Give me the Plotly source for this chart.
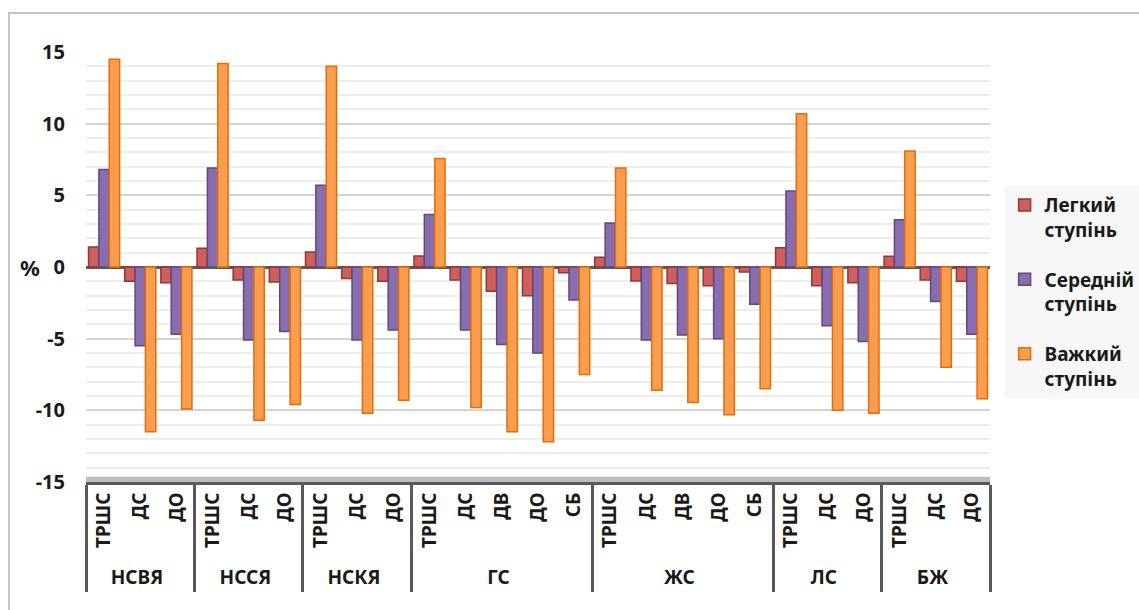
import plotly.graph_objects as go

# Category hierarchy: outer group and inner index
groups = ["НСВЯ"] * 3 + ["НССЯ"] * 3 + ["НСКЯ"] * 3 + ["ГС"] * 5 + ["ЖС"] * 5 + ["ЛС"] * 3 + ["БЖ"] * 3
indices = ["ТРШС", "ДС", "ДО",
           "ТРШС", "ДС", "ДО",
           "ТРШС", "ДС", "ДО",
           "ТРШС", "ДС", "ДВ", "ДО", "СБ",
           "ТРШС", "ДС", "ДВ", "ДО", "СБ",
           "ТРШС", "ДС", "ДО",
           "ТРШС", "ДС", "ДО"]

# Percentage change per severity level
light = [1.4, -1.0, -1.1,
         1.3, -0.9, -1.05,
         1.05, -0.8, -1.0,
         0.77, -0.9, -1.7, -2.0, -0.4,
         0.68, -0.97, -1.15, -1.3, -0.35,
         1.35, -1.3, -1.1,
         0.75, -0.9, -1.0]
medium = [6.8, -5.5, -4.7,
          6.9, -5.1, -4.5,
          5.7, -5.1, -4.4,
          3.66, -4.4, -5.4, -6.0, -2.3,
          3.07, -5.1, -4.75, -5.0, -2.6,
          5.3, -4.1, -5.2,
          3.3, -2.4, -4.7]
heavy = [14.5, -11.5, -9.9,
         14.2, -10.7, -9.6,
         14.0, -10.2, -9.3,
         7.57, -9.8, -11.5, -12.2, -7.5,
         6.9, -8.6, -9.45, -10.3, -8.5,
         10.7, -10.0, -10.2,
         8.1, -7.0, -9.2]

series_names = ["Легкий<br>ступінь", "Середній<br>ступінь", "Важкий<br>ступінь"]
fills = ["#CD5F5C", "#8A6DAE", "#F99D4E"]
edges = ["#943634", "#5F4A7F", "#E46C0A"]

FONT = "Noto Sans"

# Plotly orders multicategory inner labels by first appearance, so feed the
# points with ДО and СБ last to get ТРШС, ДС, ДВ, ДО, СБ within every group.
late = ["ДО", "СБ"]
plot_order = ([i for i, c in enumerate(indices) if c not in late]
              + [i for i, c in enumerate(indices) if c == "ДО"]
              + [i for i, c in enumerate(indices) if c == "СБ"])
x_outer = [groups[i] for i in plot_order]
x_inner = [indices[i] for i in plot_order]

fig = go.Figure()
for k, (name, vals) in enumerate(zip(series_names, [light, medium, heavy])):
    fig.add_trace(go.Bar(
        x=[x_outer, x_inner],
        y=[vals[i] for i in plot_order],
        name=name,
        legendgroup=f"g{k}",
        marker=dict(color=fills[k], line=dict(color=edges[k], width=1.5)),
    ))

fig.update_layout(
    width=1139,
    height=610,
    margin=dict(l=86, r=149, t=52, b=128),
    paper_bgcolor="white",
    plot_bgcolor="white",
    barmode="group",
    bargap=0.14,
    bargroupgap=0,
    font=dict(family=FONT, color="#1a1a1a"),
    legend=dict(
        xref="container", yref="container",
        x=0.882, y=0.695, xanchor="left", yanchor="top",
        bgcolor="#F7F7F7",
        font=dict(family=FONT, size=19, color="#1a1a1a", weight="bold"),
        tracegroupgap=22,
        itemwidth=30,
        valign="top",
    ),
    showlegend=True,
)

fig.update_yaxes(
    range=[-15, 15],
    tickvals=[-15, -10, -5, 0, 5, 10, 15],
    ticktext=["-15", "-10", "-5", "0", "5", "10", "15"],
    tickfont=dict(family=FONT, size=20, color="#1a1a1a", weight="bold"),
    ticks="",
    ticklabelstandoff=20,
    showgrid=True,
    gridcolor="#D4D4D4",
    gridwidth=2,
    minor=dict(dtick=1, showgrid=True, gridcolor="#EDEDED", gridwidth=1.5),
    zeroline=True,
    zerolinecolor="#595959",
    zerolinewidth=3,
    showline=False,
    fixedrange=True,
)

fig.update_xaxes(
    type="multicategory",
    tickangle=-90,
    tickfont=dict(family=FONT, size=19, color="#1a1a1a", weight="bold"),
    showline=True,
    linecolor="#595959",
    linewidth=3,
    showdividers=True,
    dividercolor="#595959",
    dividerwidth=3,
    ticks="",
    showgrid=False,
    fixedrange=True,
)

# Floor strip above the category axis
fig.add_shape(type="rect", xref="paper", yref="y domain",
              x0=0, x1=1.0, y0=0, y1=0.012,
              fillcolor="#BDBDBD", line=dict(width=0), layer="below")

# Outer chart frame
fig.add_shape(type="rect", xref="paper", yref="paper",
              x0=-0.0852, x1=1.2, y0=-0.35, y1=1.0907,
              fillcolor="rgba(0,0,0,0)", line=dict(color="#C4C4C4", width=2))

# Unit label for the value axis
fig.add_annotation(xref="paper", yref="y", x=-0.062, y=0,
                   text="%", showarrow=False, xanchor="center", yanchor="middle",
                   font=dict(family=FONT, size=22, color="#1a1a1a", weight="bold"))

fig.write_html("out.html")
